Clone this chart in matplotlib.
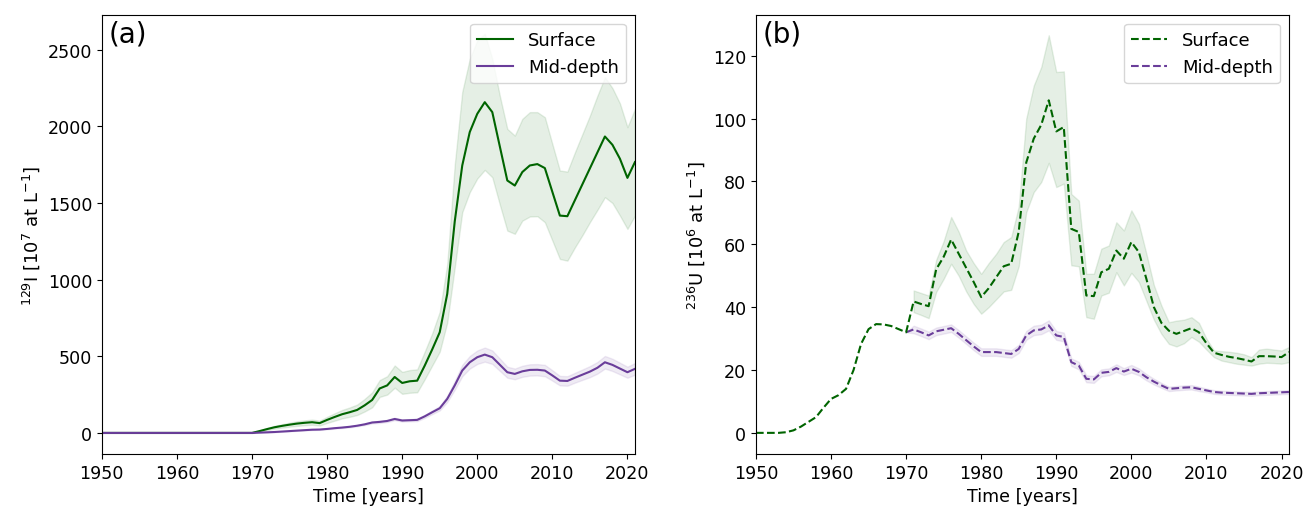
import numpy as np
import matplotlib
matplotlib.use("Agg")
import matplotlib.pyplot as plt

# ---- data ----
years = np.arange(1950, 2022)
years_70 = np.arange(1970, 2022)
years_71 = np.arange(1971, 2022)

# (a) 129I, 10^7 at/L  (1950-1969 are zero)
iodine_surf = [0] * 20 + [
    0, 12, 25, 37, 46, 54, 61, 66, 70, 64,
    85, 104, 122, 135, 150, 180, 215, 290, 310, 365,
    326, 337, 341, 439, 545, 657, 907, 1380, 1745, 1963,
    2082, 2158, 2093, 1870, 1647, 1614, 1702, 1745, 1754, 1728,
    1573, 1418, 1414, 1518, 1622, 1726, 1830, 1934, 1880, 1789,
    1664, 1767]
iodine_surf_lo = [0] * 20 + [
    0, 8, 18, 28, 35, 41, 46, 50, 53, 48,
    65, 80, 95, 105, 117, 140, 167, 235, 250, 295,
    255, 262, 265, 350, 440, 530, 720, 1080, 1440, 1571,
    1660, 1716, 1668, 1490, 1320, 1299, 1385, 1412, 1414, 1375,
    1255, 1135, 1124, 1210, 1290, 1375, 1455, 1538, 1500, 1418,
    1331, 1418]
iodine_surf_hi = [0] * 20 + [
    0, 16, 32, 46, 57, 67, 76, 82, 87, 80,
    105, 128, 150, 166, 185, 222, 265, 345, 370, 440,
    398, 410, 415, 530, 650, 790, 1100, 1750, 2225, 2440,
    2560, 2604, 2440, 2200, 1984, 1940, 2049, 2093, 2093, 2060,
    1885, 1712, 1705, 1830, 1950, 2070, 2200, 2321, 2250, 2150,
    1995, 2114]
iodine_mid = [0] * 20 + [
    0, 2, 4, 6, 9, 12, 15, 18, 21, 22,
    26, 31, 35, 40, 47, 56, 68, 72, 78, 91,
    81, 83, 85, 108, 135, 161, 222, 310, 407, 461,
    494, 511, 494, 445, 396, 385, 402, 411, 412, 407,
    375, 341, 339, 360, 380, 400, 425, 461, 444, 420,
    396, 418]
iodine_mid_lo = [0] * 20 + [
    0, 2, 4, 5, 8, 11, 14, 16, 19, 20,
    24, 28, 32, 36, 43, 51, 62, 65, 71, 83,
    74, 76, 77, 98, 123, 147, 202, 282, 370, 420,
    450, 465, 450, 405, 360, 350, 366, 374, 375, 370,
    341, 310, 308, 328, 346, 364, 387, 420, 404, 382,
    360, 380]
iodine_mid_hi = [0] * 20 + [
    0, 2, 4, 7, 10, 13, 16, 20, 23, 24,
    28, 34, 38, 44, 51, 61, 74, 79, 85, 99,
    88, 90, 93, 118, 147, 175, 242, 338, 444, 502,
    538, 557, 538, 485, 432, 420, 438, 448, 449, 444,
    409, 372, 370, 392, 414, 436, 463, 502, 484, 458,
    432, 456]

# (b) 236U, 10^6 at/L
uran_surf = [
    0, 0, 0, 0, 0.2, 0.8, 2, 3.5, 5, 8,
    10.8, 12, 14, 20, 28.3, 33, 34.6, 34.5, 34, 33,
    32, 41.8, 41, 40.3, 52, 56, 61.5, 57, 52.5, 48,
    43.2, 46, 49.5, 53, 53.8, 64, 86, 93.6, 98, 105.8,
    95.9, 97.3, 64.9, 63.9, 43.7, 43.5, 51.1, 52.2, 58, 55.4,
    60.7, 57.5, 49, 40, 35, 32.5, 31.5, 32.4, 33.3, 32,
    28.5, 25.5, 24.8, 24.2, 23.8, 23.3, 22.7, 24.4, 24.4, 24.3,
    24.1, 25.7]
uran_surf_lo = [  # from 1971
    38.4, 37.5, 36.5, 44.8, 49, 53.8, 50, 45, 41, 37.9,
    40, 42.5, 45, 45.5, 53, 70.2, 76.6, 79.8, 85.9, 78.2,
    79.3, 53.3, 53, 36.8, 36.3, 43.7, 44.6, 51.1, 46.9, 50.9,
    48, 42, 36, 31.5, 28.3, 27.5, 28.5, 30.5, 29, 26.5,
    24.1, 23, 22.5, 22, 21.7, 21.4, 22, 22.3, 22.2, 22, 22.5]
uran_surf_hi = [  # from 1971
    45.3, 44.5, 43.7, 55, 61, 68.7, 64, 58, 54, 50.6,
    54, 57, 60.7, 62.3, 72, 100, 110.5, 116.4, 126.5, 114.8,
    115, 76, 73.9, 50.6, 50.6, 58.6, 59.6, 67, 64.4, 70.8,
    66.5, 57, 47, 40.5, 35.2, 35.7, 36, 36.8, 35, 30,
    26.2, 26, 25.8, 25.5, 25, 24.1, 26.5, 26.8, 26.5, 26.2, 27.3]
uran_mid = [  # from 1970
    32, 32.9, 32, 31, 32.3, 32.8, 33.3, 31.5, 29.5, 27.5,
    25.7, 25.7, 25.7, 25.4, 25.1, 26.7, 31, 32.6, 32.9, 34.2,
    31, 30.5, 22.5, 21.4, 17.2, 17, 19.1, 19.4, 20.6, 19.5,
    20.4, 19.4, 17.7, 16.3, 15.1, 14, 14.2, 14.4, 14.5, 14,
    13.5, 13, 12.8, 12.7, 12.6, 12.5, 12.4, 12.6, 12.7, 12.8,
    12.9, 13]
uran_mid_lo = [
    32, 31.7, 30.8, 29.8, 31.1, 31.6, 32.1, 30.3, 28.3, 26.3,
    24.5, 24.5, 24.5, 24.2, 23.9, 25.4, 29.6, 31.1, 31.4, 32.6,
    29.6, 29.1, 21.3, 20.2, 16.1, 15.9, 18, 18.3, 19.4, 18.4,
    19.2, 18.3, 16.7, 15.4, 14.3, 13.3, 13.5, 13.7, 13.8, 13.3,
    12.9, 12.4, 12.2, 12.1, 12, 11.9, 11.8, 12, 12.1, 12.2,
    12.3, 12.4]
uran_mid_hi = [
    32, 34.1, 33.2, 32.2, 33.5, 34, 34.5, 32.7, 30.7, 28.7,
    26.9, 26.9, 26.9, 26.6, 26.3, 28, 32.4, 34.1, 34.4, 35.8,
    32.4, 31.9, 23.7, 22.6, 18.3, 18.1, 20.2, 20.5, 21.8, 20.6,
    21.6, 20.5, 18.7, 17.2, 15.9, 14.7, 14.9, 15.1, 15.2, 14.7,
    14.1, 13.6, 13.4, 13.3, 13.2, 13.1, 13, 13.2, 13.3, 13.4,
    13.5, 13.6]

green = "#006400"
purple = "#6a3d9a"

fig, (ax1, ax2) = plt.subplots(1, 2, figsize=(13.06, 5.1), dpi=100)
plt.subplots_adjust(left=0.078, right=0.987, bottom=0.108, top=0.969, wspace=0.227)

# ---- (a) iodine ----
ax1.fill_between(years, iodine_surf_lo, iodine_surf_hi, color=green, alpha=0.1)
ax1.fill_between(years, iodine_mid_lo, iodine_mid_hi, color=purple, alpha=0.1)
ax1.plot(years, iodine_surf, color=green, lw=1.5, label="Surface")
ax1.plot(years, iodine_mid, color=purple, lw=1.5, label="Mid-depth")
ax1.set_xlim(1950, 2021)
ax1.set_ylim(-137, 2728)
ax1.set_xticks(range(1950, 2021, 10))
ax1.set_xlabel("Time [years]", fontsize=12.6)
ax1.set_ylabel(r"$^{129}$I [10$^{7}$ at L$^{-1}$]", fontsize=13)
ax1.text(0.012, 0.99, "(a)", transform=ax1.transAxes, fontsize=20, va="top")
ax1.legend(loc="upper right", fontsize=13)

# ---- (b) uranium ----
ax2.fill_between(years_71, uran_surf_lo, uran_surf_hi, color=green, alpha=0.1)
ax2.fill_between(years_70, uran_mid_lo, uran_mid_hi, color=purple, alpha=0.1)
ax2.plot(years_70, uran_mid, color=purple, lw=1.5, ls="--", label="Mid-depth")
ax2.plot(years, uran_surf, color=green, lw=1.5, ls="--", label="Surface")
ax2.set_xlim(1950, 2021)
ax2.set_ylim(-6.7, 133)
ax2.set_xticks(range(1950, 2021, 10))
ax2.set_xlabel("Time [years]", fontsize=12.6)
ax2.set_ylabel(r"$^{236}$U [10$^{6}$ at L$^{-1}$]", fontsize=13)
ax2.text(0.012, 0.99, "(b)", transform=ax2.transAxes, fontsize=20, va="top")
h, l = ax2.get_legend_handles_labels()
ax2.legend(h[::-1], l[::-1], loc="upper right", fontsize=13)

for ax in (ax1, ax2):
    ax.tick_params(labelsize=12.6)

plt.savefig("out.png")
